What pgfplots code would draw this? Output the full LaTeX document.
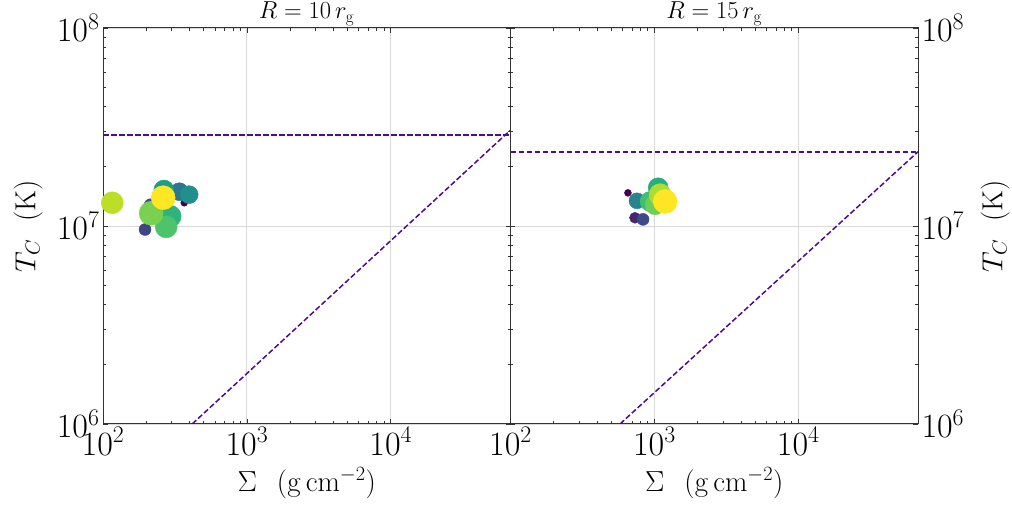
\RequirePackage{fix-cm}
\documentclass[border=0pt]{standalone}
\usepackage{pgfplots}
\usepackage{pgfplotstable}
\pgfplotsset{compat=1.18}
\definecolor{lineind}{RGB}{80,10,140}

\pgfplotstableread{
x y c s
367 1.31e7 0.00 3.5
196 9.6e6 0.20 6
213 1.28e7 0.25 6
339 1.49e7 0.40 9
397 1.44e7 0.50 9
265 1.52e7 0.55 10
293 1.12e7 0.65 11
275 9.9e6 0.72 11
216 1.16e7 0.80 12
116 1.31e7 0.90 11
262 1.39e7 1.00 12
}\lefttab

\pgfplotstableread{
x y c s
655 1.47e7 0.00 3.5
733 1.10e7 0.10 5.5
834 1.08e7 0.22 6
757 1.34e7 0.45 8
1062 1.56e7 0.62 10
933 1.33e7 0.70 10
1012 1.28e7 0.78 10
1096 1.44e7 0.88 11
1188 1.33e7 1.00 12
}\righttab

\newcommand{\lblfont}{\fontsize{29bp}{33bp}\selectfont}
\newcommand{\ttlfont}{\fontsize{24.5bp}{28bp}\selectfont}

\pgfplotsset{
  myax/.style={
    scale only axis,
    width=407.5bp, height=396bp,
    xmin=100, xmax=6.8e4,
    ymin=1e6, ymax=1e8,
    xtick={1e2,1e3,1e4},
    ytick={1e6,1e7,1e8},
    tick align=inside,
    major tick length=5bp,
    minor tick length=3bp,
    grid=major,
    major grid style={draw=black!15, line width=0.8bp},
    axis line style={draw=black!80, line width=1bp},
    every tick/.style={black!80, line width=0.7bp},
    tick label style={font=\fontsize{34bp}{40bp}\selectfont},
    every axis title shift=0pt,
    title style={at={(axis description cs:0.5,1)}, anchor=base, yshift=9.5bp, inner sep=0pt},
    xlabel={\lblfont$\Sigma\hspace{20bp}(\mathrm{g\,cm^{-2}})$},
    xlabel style={at={(axis description cs:0.5,-0.149)}, anchor=center},
    ylabel={\lblfont$T_C\hspace{18bp}(\mathrm{K})$},
    colormap/viridis,
    point meta min=0, point meta max=1,
  },
  myscat/.style={
    scatter, only marks, mark=*, point meta=explicit,
    scatter/use mapped color={draw=mapped color, fill=mapped color},
    visualization depends on={\thisrow{s} \as \msize},
    scatter/@pre marker code/.append style={/tikz/mark size=\msize bp},
  },
  dline/.style={draw=lineind, line width=1.5bp, dash pattern=on 5.5bp off 2.5bp},
}

\begin{document}
\begin{tikzpicture}
\begin{loglogaxis}[myax, at={(0,0)}, anchor=south west,
  title={\ttlfont$R = 10\,r_{\mathrm{g}}$},
  ylabel style={at={(axis description cs:-0.184,0.5)}, anchor=center},
]
\addplot[dline] coordinates {(100,2.88e7) (6.8e4,2.88e7)};
\addplot[dline] coordinates {(417,1e6) (6.8e4,3.05e7)};
\addplot[myscat] table[x=x, y=y, meta=c] {\lefttab};
\end{loglogaxis}
\begin{loglogaxis}[myax, at={(407.5bp,0)}, anchor=south west,
  title={\ttlfont$R = 15\,r_{\mathrm{g}}$},
  yticklabel pos=right,
  ylabel style={at={(axis description cs:1.189,0.5)}, anchor=center, rotate=0},
]
\addplot[dline] coordinates {(100,2.37e7) (6.8e4,2.37e7)};
\addplot[dline] coordinates {(577,1e6) (6.8e4,2.37e7)};
\addplot[myscat] table[x=x, y=y, meta=c] {\righttab};
\end{loglogaxis}
\pgfresetboundingbox
\useasboundingbox (-103bp,-83bp) rectangle (909bp,424bp);
\end{tikzpicture}
\end{document}
